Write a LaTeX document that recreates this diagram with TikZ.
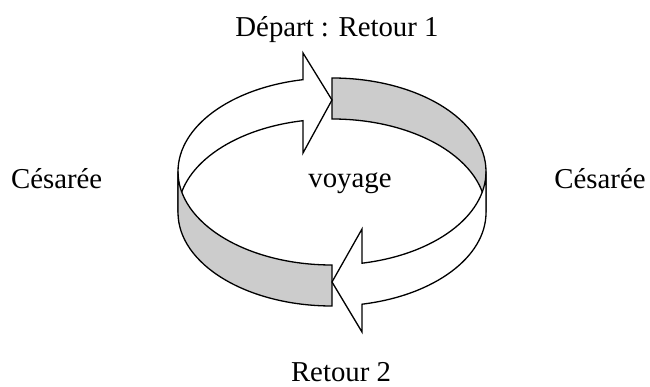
\documentclass[tikz,border=0pt]{standalone}
\usepackage{fontspec}
\setmainfont{Liberation Serif}
\begin{document}
\begin{tikzpicture}[x=1pt,y=1pt,
  band/.style={draw=black,line width=1.3pt,line join=miter},
  grayband/.style={band,fill=black!20},
  whiteband/.style={band,fill=white},
  lbl/.style={anchor=base,inner sep=0pt,font=\fontsize{28.8}{34}\selectfont}]
\useasboundingbox (0,0) rectangle (650,387);
% back wall: right part grey
\path[grayband] (332,309) arc[start angle=90,end angle=0,x radius=154,y radius=93.5]
  -- (486,174.5) arc[start angle=0,end angle=90,x radius=154,y radius=93.5] -- cycle;
% back wall: left part white with arrow head pointing right
\path[whiteband] (178,215.5) arc[start angle=180,end angle=100.85,x radius=154,y radius=93.5]
  -- (303,334) -- (332,287) -- (303,234)
  -- (303,266.3) arc[start angle=100.85,end angle=180,x radius=154,y radius=93.5] -- cycle;
% front wall: left part grey
\path[grayband] (178,215.5) arc[start angle=180,end angle=270,x radius=154,y radius=93.5]
  -- (332,81) arc[start angle=270,end angle=180,x radius=154,y radius=93.5] -- cycle;
% front wall: right part white with arrow head pointing left
\path[whiteband] (486,215.5) arc[start angle=360,end angle=281.23,x radius=154,y radius=93.5]
  -- (362,158) -- (332,105) -- (362,55)
  -- (362,82.8) arc[start angle=281.23,end angle=360,x radius=154,y radius=93.5] -- cycle;
% labels
\node[lbl] (top) at (337,350) {Départ : Retour 1};
\node[lbl] (left) at (56.7,198.7) {Césarée};
\node[lbl] (right) at (600,198.7) {Césarée};
\node[lbl] (mid) at (350,199) {voyage};
\node[lbl] (bottom) at (341,5) {Retour 2};
\end{tikzpicture}
\end{document}
